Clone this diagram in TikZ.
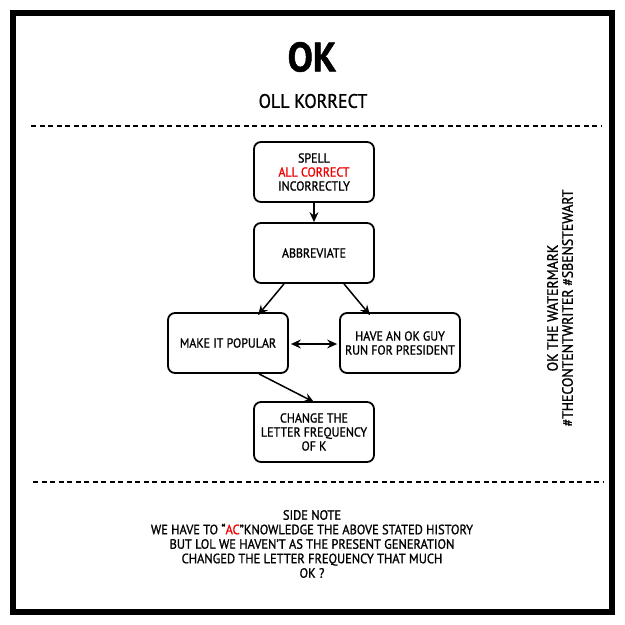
\documentclass[tikz,border=0pt]{standalone}
\usepackage{fontspec}
\setmainfont{PT Sans}[FakeStretch=0.92,FakeBold=1.2]
\usetikzlibrary{arrows.meta}
\definecolor{okred}{RGB}{240,0,0}
\tikzset{
  stepbox/.style={draw, line width=1.8pt, rounded corners=7pt, minimum width=120pt, minimum height=60pt, align=center, font=\fontsize{13}{14}\selectfont, inner sep=2pt},
  flow/.style={line width=1.5pt, -{Stealth[length=10pt,width=9pt,inset=3.5pt]}},
  divider/.style={line width=1.4pt, dash pattern=on 5pt off 3.5pt},
  plain/.style={align=center, inner sep=0pt}
}
\begin{document}
\begin{tikzpicture}[x=1pt,y=-1pt]
\useasboundingbox (0,0) rectangle (625,625);
\fill[white] (0,0) rectangle (625,625);
\draw[line width=6pt] (13,13) rectangle (612,612);
\node[plain, font=\bfseries\fontsize{41}{41}\selectfont] (title) at (312,57) {OK};
\node[plain, font=\fontsize{19.5}{20}\selectfont] (sub) at (313,101) {OLL KORRECT};
\coordinate (d1a) at (31,126); \coordinate (d1b) at (601,126);
\draw[divider] (d1a) -- (d1b);
\coordinate (d2a) at (33,482); \coordinate (d2b) at (603,482);
\draw[divider] (d2a) -- (d2b);
\node[stepbox] (spell) at (314,172) {SPELL\\\textcolor{okred}{ALL CORRECT}\\INCORRECTLY};
\node[stepbox] (abbr) at (314,253) {ABBREVIATE};
\node[stepbox] (pop) at (228,343) {MAKE IT POPULAR};
\node[stepbox] (guy) at (400,343) {HAVE AN OK GUY\\RUN FOR PRESIDENT};
\node[stepbox] (freq) at (314,432) {CHANGE THE\\LETTER FREQUENCY\\OF K};
\draw[flow] (spell) -- (abbr);
\draw[flow] ([xshift=-30pt]abbr.south) -- ([xshift=30pt,yshift=-3pt]pop.north);
\draw[flow] ([xshift=30pt]abbr.south) -- ([xshift=-30pt,yshift=-3pt]guy.north);
\draw[line width=1.5pt, {Stealth[length=10pt,width=9pt,inset=3.5pt]}-{Stealth[length=10pt,width=9pt,inset=3.5pt]}] ([xshift=2pt,yshift=-1pt]pop.east) -- ([xshift=-2pt,yshift=-1pt]guy.west);
\draw[flow] ([xshift=31pt]pop.south) -- ([yshift=-1pt]freq.north);
\node[plain, rotate=90, font=\fontsize{15}{15}\selectfont] (wm) at (560,308) {OK THE WATERMARK\\\#THECONTENTWRITER \#SBENSTEWART};
\node[plain, font=\fontsize{13.5}{14.5}\selectfont] (note) at (312,544) {SIDE NOTE\\WE HAVE TO ``\textcolor{okred}{AC}''KNOWLEDGE THE ABOVE STATED HISTORY\\BUT LOL WE HAVEN'T AS THE PRESENT GENERATION\\CHANGED THE LETTER FREQUENCY THAT MUCH\\OK ?};
\end{tikzpicture}
\end{document}
